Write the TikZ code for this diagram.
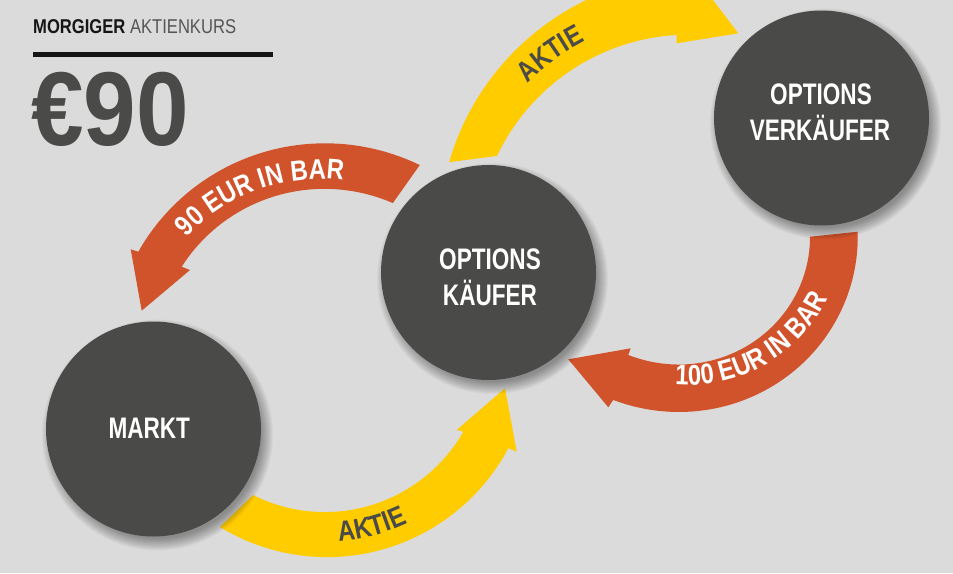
\documentclass[tikz,border=0pt]{standalone}
\usepackage{fontspec}
\setmainfont{Liberation Sans}
\newfontfamily\circfont[FakeStretch=0.76]{Liberation Sans}
\newfontfamily\bandfont[FakeStretch=0.84]{Liberation Sans}
\newfontfamily\headfont[FakeStretch=0.83]{Liberation Sans}
\newfontfamily\pricefont[FakeStretch=0.90]{Liberation Sans}
\usetikzlibrary{decorations.text}

\definecolor{bg}{HTML}{DBDBDB}
\definecolor{disc}{HTML}{4A4A48}
\definecolor{cashred}{HTML}{D1532C}
\definecolor{sharegold}{HTML}{FFCC00}
\definecolor{ink}{HTML}{161616}
\definecolor{subgray}{HTML}{555555}

% spiral edge: centre (#1,#2), angles #3 -> #4, radius #5 -> #6
\newcommand\spiral[6]{plot[domain=#3:#4,samples=70,variable=\t]
  ({#1+(#5+((#6)-(#5))*(\t-(#3))/((#4)-(#3)))*cos(\t)},
   {#2+(#5+((#6)-(#5))*(\t-(#3))/((#4)-(#3)))*sin(\t)})}
% same edge, joined to the current path by a straight segment
\newcommand\spiralto[6]{-- plot[domain=#3:#4,samples=70,variable=\t]
  ({#1+(#5+((#6)-(#5))*(\t-(#3))/((#4)-(#3)))*cos(\t)},
   {#2+(#5+((#6)-(#5))*(\t-(#3))/((#4)-(#3)))*sin(\t)})}

% curved label: centre (#1,#2), from angle #3 to #4 at radius #5, text #6, format #7
\newcommand\bandtext[7]{\path[decorate,decoration={text along path,text align=center,
  text={|#7|#6}}] ([shift={(#1,#2)}]#3:#5) arc[start angle=#3,end angle=#4,radius=#5];}

% soft drop shadow under a disc of radius #2 centred at #1
\newcommand\discshadow[2]{\foreach \k in {0,...,12}
  {\fill[black,opacity=0.03] ([shift={(4,-6)}]#1) circle[radius=#2+8-\k];}}

\newcommand\cashlbl{\bandfont\bfseries\fontsize{28.5}{28.5}\selectfont\color{white}}
\newcommand\sharelbl{\bandfont\bfseries\fontsize{28.5}{28.5}\selectfont\color{disc}}

\tikzset{
  bubble/.style={circle,fill=disc,minimum size=215pt,inner sep=0pt},
  bubbletext/.style={anchor=base,inner sep=0pt,text=white,
    font=\circfont\bfseries\fontsize{29.7}{36}\selectfont},
  cash/.style={fill=cashred},
  share/.style={fill=sharegold},
}

\begin{document}
\begin{tikzpicture}[x=1pt,y=1pt]
\fill[bg] (0,0) rectangle (953,-573);
\useasboundingbox (0,0) rectangle (953,-573);

% heading
\node[anchor=base west,inner sep=0pt] (title) at (33,-33.3)
  {\headfont\fontsize{20}{20}\selectfont{\bfseries\color{ink}MORGIGER} {\color{subgray}AKTIENKURS}};
\draw[line width=5pt,ink] (33,-54.5) -- (273,-54.5);
\node[anchor=base west,inner sep=0pt] (price) at (31,-145)
  {\pricefont\bfseries\fontsize{105}{105}\selectfont\color{disc}€90};

% cash: buyer -> market
\fill[cash] \spiral{320}{-360}{62.9}{149.2}{219}{211.5}
  -- (130.7,-249.3) -- (141.7,-310.7) -- (190,-270)
  \spiralto{320}{-360}{146.0}{65.1}{166.8}{173} -- cycle;
% share: buyer -> writer
\fill[share] \spiral{690}{-246}{160.8}{93}{255}{272}
  -- (684,38) -- (738.3,-33.3) -- (676.7,-43.3)
  \spiralto{690}{-246}{93.6}{155}{211.4}{213} -- cycle;
% cash: writer -> buyer
\fill[cash] \spiral{688}{-228}{-1.25}{-113.5}{169.7}{187.5}
  -- (608.3,-407.3) -- (568.3,-359.3) -- (630.7,-348.3)
  \spiralto{688}{-228}{-115.2}{-4.1}{140.3}{122.3} -- cycle;
% share: market -> buyer
\fill[share] \spiral{326}{-352}{-121.2}{-27.8}{204.6}{206.2}
  -- (516.7,-451.7) -- (505,-388.3) -- (456.7,-430)
  \spiralto{326}{-352}{-30.1}{-117}{158.8}{160.6} -- cycle;

% band labels
\bandtext{320}{-360}{153}{67}{181}{90 EUR IN BAR}{\cashlbl}
\bandtext{690}{-246}{150}{102}{230}{AKTIE}{\sharelbl}
\bandtext{688}{-228}{-117}{-4.4}{157}{100 EUR IN BAR}{\cashlbl}
\bandtext{326}{-352}{-105}{-45.6}{190}{AKTIE}{\sharelbl}

% parties
\coordinate (pbuyer) at (488.5,-272.5);
\coordinate (pwriter) at (821.5,-118);
\coordinate (pmarket) at (153.5,-429);
\discshadow{pbuyer}{107.5}
\discshadow{pwriter}{107.5}
\discshadow{pmarket}{107.5}

\node[bubble] (buyer) at (pbuyer) {};
\node[bubble] (writer) at (pwriter) {};
\node[bubble] (market) at (pmarket) {};

\node[bubbletext] (buyer1) at (490,-269) {OPTIONS};
\node[bubbletext] (buyer2) at (490,-305) {KÄUFER};
\node[bubbletext] (writer1) at (821,-104) {OPTIONS};
\node[bubbletext] (writer2) at (820,-140) {VERKÄUFER};
\node[bubbletext] (market1) at (149.3,-438.3) {MARKT};
\end{tikzpicture}
\end{document}
